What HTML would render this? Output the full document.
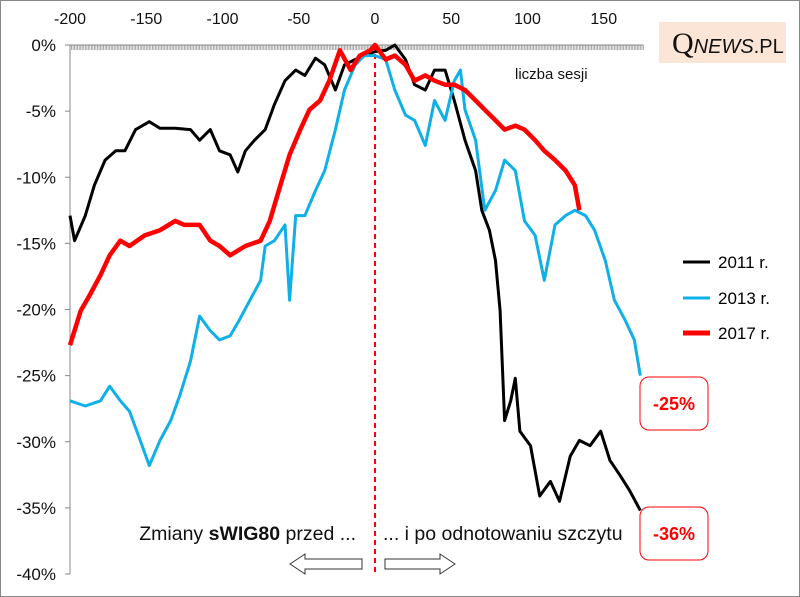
<!DOCTYPE html>
<html><head><meta charset="utf-8"><style>
body{margin:0;background:#fff;}
svg{display:block;font-family:"Liberation Sans",sans-serif;}
</style></head><body>
<svg id="chart" width="800" height="597">
<rect x="0.5" y="0.5" width="799" height="596" fill="#fff" stroke="#888"/>
<g id="axes"></g><g id="series"></g>
<rect x="659" y="22" width="127" height="41" fill="#fbe5d6"/>
<text x="672" y="53" font-family="Liberation Serif,serif" font-size="30" fill="#111">Q<tspan font-size="20" font-style="italic" font-family="Liberation Sans,sans-serif">NEWS</tspan><tspan font-size="20" font-family="Liberation Sans,sans-serif">.PL</tspan></text>
<text x="515" y="79" font-size="15" fill="#111">liczba sesji</text>
<g>
<line x1="683" y1="262" x2="710" y2="262" stroke="#000" stroke-width="3"/><text x="718" y="268" font-size="17">2011 r.</text>
<line x1="683" y1="298" x2="710" y2="298" stroke="#0fb0e8" stroke-width="3"/><text x="718" y="304" font-size="17">2013 r.</text>
<line x1="683" y1="333" x2="710" y2="333" stroke="#ff0000" stroke-width="5"/><text x="718" y="339" font-size="17">2017 r.</text>
</g>
<rect x="640" y="377" width="68" height="53" rx="9" fill="#fff" stroke="#f00"/>
<text x="674" y="410" font-size="18" font-weight="bold" fill="#f00" text-anchor="middle">-25%</text>
<rect x="640" y="507" width="68" height="53" rx="9" fill="#fff" stroke="#f00"/>
<text x="674" y="540" font-size="18" font-weight="bold" fill="#f00" text-anchor="middle">-36%</text>
<text x="356" y="540" font-size="19.5" text-anchor="end" fill="#111">Zmiany <tspan font-weight="bold">sWIG80</tspan> przed ...</text>
<text x="383" y="540" font-size="19.5" fill="#111">... i po odnotowaniu  szczytu</text>
<path d="M290 564 L305 554 L305 559 L362 559 L362 569 L305 569 L305 574 Z" fill="#fff" stroke="#333"/>
<path d="M455 564 L440 554 L440 559 L385 559 L385 569 L440 569 L440 574 Z" fill="#fff" stroke="#333"/>
</svg>
<script>
const xTicks=[-200,-150,-100,-50,0,50,100,150];
const yTicks=[0,-5,-10,-15,-20,-25,-30,-35,-40];
const s2011=[-200,-197,-190,-184,-177,-170,-164,-157,-148,-141,-131,-121,-115,-108,-102,-95,-90,-85,-79,-72,-66,-59,-52,-46,-39,-33,-26,-20,-13,-7,0,7,13,20,26,33,39,46,52,59,66,70,75,79,82,85,89,92,95,102,108,115,121,128,134,141,148,154,161,167,174];
const v2011=[-12.9,-14.8,-12.9,-10.6,-8.7,-8.0,-8.0,-6.4,-5.8,-6.3,-6.3,-6.4,-7.2,-6.4,-8.0,-8.3,-9.6,-8.0,-7.2,-6.4,-4.5,-2.7,-1.9,-2.3,-1.0,-1.5,-3.4,-1.5,-1.1,-0.8,-0.5,-0.4,0,-1.1,-3.0,-3.4,-1.9,-1.9,-4.2,-7.2,-9.5,-12.5,-14.0,-16.3,-20.1,-28.4,-26.9,-25.2,-29.2,-30.3,-34.1,-33.0,-34.5,-31.1,-29.9,-30.3,-29.2,-31.4,-32.6,-33.7,-35.2];
const s2013=[-200,-190,-180,-174,-167,-161,-154,-148,-141,-134,-128,-121,-115,-108,-102,-95,-89,-82,-75,-72,-66,-59,-56,-52,-46,-39,-33,-26,-20,-13,-7,0,7,13,20,26,33,39,46,52,56,59,66,72,79,85,92,98,105,111,118,125,131,138,144,151,157,164,170,174];
const v2013=[-26.9,-27.3,-26.9,-25.8,-26.9,-27.7,-29.9,-31.8,-29.9,-28.4,-26.5,-23.9,-20.5,-21.6,-22.3,-22.0,-20.8,-19.3,-17.8,-15.2,-14.8,-13.6,-19.3,-12.9,-12.9,-11.0,-9.5,-6.4,-3.4,-1.5,-0.8,-0.8,-1.1,-3.4,-5.3,-5.7,-7.6,-4.2,-5.7,-2.7,-1.9,-4.9,-7.2,-12.5,-11.0,-8.7,-9.5,-13.3,-14.4,-17.8,-13.6,-12.9,-12.5,-12.9,-14.0,-16.3,-19.3,-20.8,-22.3,-25.0];
const s2017=[-200,-193,-187,-180,-174,-167,-161,-151,-141,-131,-125,-115,-108,-102,-95,-85,-75,-69,-62,-56,-49,-43,-36,-30,-23,-16,-10,-3,0,7,13,20,26,33,39,46,52,59,66,72,79,85,92,98,105,111,118,125,131,134];
const v2017=[-22.7,-20.1,-18.9,-17.4,-15.9,-14.8,-15.2,-14.4,-14.0,-13.3,-13.6,-13.6,-14.8,-15.2,-15.9,-15.2,-14.8,-13.3,-10.6,-8.3,-6.4,-4.9,-4.2,-2.7,-0.4,-1.9,-0.8,-0.4,0,-1.1,-0.8,-1.5,-2.7,-2.3,-2.7,-3.0,-3.0,-3.4,-4.2,-4.9,-5.7,-6.4,-6.1,-6.4,-7.2,-8.0,-8.7,-9.5,-10.6,-12.5];
const NS="http://www.w3.org/2000/svg";
const X=s=>375+s*1.525, Y=v=>45-v*13.225;
const axes=document.getElementById('axes'), ser=document.getElementById('series');
function mk(tag,at,parent){const e=document.createElementNS(NS,tag);for(const k in at)e.setAttribute(k,at[k]);parent.appendChild(e);return e;}
let d='';for(let s=-200;s<=176;s++){d+=`M${X(s).toFixed(1)} 45V50`;}
const mt=mk('path',{d:d,stroke:'#999','stroke-width':0.8},axes);


const xa=mk('line',{x1:70,y1:45,x2:X(176),y2:45,stroke:'#888'},axes);


const ya=mk('line',{x1:70,y1:45,x2:70,y2:Y(-40),stroke:'#888'},axes);


xTicks.forEach(t=>{const e=mk('text',{x:X(t),y:24,'font-size':16,'text-anchor':'middle',fill:'#111'},axes);e.textContent=t;

});
yTicks.forEach(t=>{const e=mk('text',{x:56,y:Y(t)+6,'font-size':17,'text-anchor':'end',fill:'#111'},axes);e.textContent=t+'%';


mk('line',{x1:65,y1:Y(t),x2:70,y2:Y(t),stroke:'#888'},axes);});
const dl=mk('line',{x1:X(0),y1:45,x2:X(0),y2:Y(-40),stroke:'#f00','stroke-width':2,'stroke-dasharray':'5,4'},axes);


function line(s,v,col,w,name){const p=mk('path',{d:s.map((q,i)=>(i?'L':'M')+X(q).toFixed(1)+' '+Y(v[i]).toFixed(1)).join(''),fill:'none',stroke:col,'stroke-width':w,'stroke-linejoin':'round'},ser);

}
line(s2011,v2011,'#000',3,'series-2011');
line(s2013,v2013,'#0fb0e8',3,'series-2013');
line(s2017,v2017,'#ff0000',4.5,'series-2017');
</script>
</body></html>
